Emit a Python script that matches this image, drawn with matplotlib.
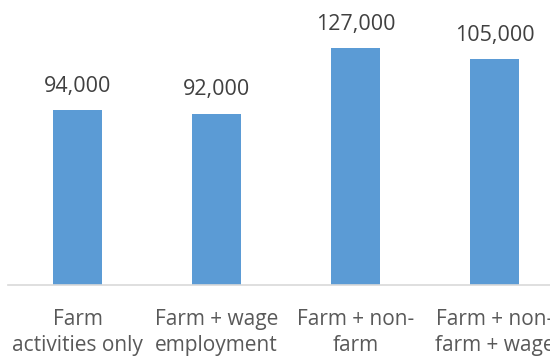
import matplotlib.pyplot as plt

# income by livelihood strategy
categories = ["Farm\nactivities only", "Farm + wage\nemployment", "Farm + non-\nfarm", "Farm + non-\nfarm + wage"]
# bar heights as drawn in the original (last bar is taller than its label says)
bar_heights = [94000, 92000, 127000, 121000]
value_labels = ["94,000", "92,000", "127,000", "105,000"]

plt.rcParams['font.family'] = ['Open Sans', 'DejaVu Sans']

fig = plt.figure(figsize=(5.5, 3.56), dpi=100)
# axes reaches past the right edge, like the cropped original
ax = fig.add_axes([8 / 550, 71 / 356, 542 / 550, 261 / 356])

x = range(len(bar_heights))
ax.bar(x, bar_heights, width=0.355, color='#5B9BD5', zorder=2)

for xi, h, lab in zip(x, bar_heights, value_labels):
    ax.annotate(lab, (xi, h), xytext=(0, 9.5), textcoords='offset points',
                ha='center', va='bottom', fontsize=15.5, color='#404040')

ax.set_xlim(-0.5, 542 / 139 - 0.5)
ax.set_ylim(0, 261 / 1.864 * 1000)
ax.set_xticks(list(x))
ax.set_xticklabels(categories, fontsize=15, color='#595959', linespacing=1.35)
ax.tick_params(axis='x', length=0, pad=17)
ax.set_yticks([])

for s in ['top', 'right', 'left']:
    ax.spines[s].set_visible(False)
ax.spines['bottom'].set_color('#D9D9D9')
ax.spines['bottom'].set_linewidth(1.2)

fig.savefig('out.png', dpi=100)
